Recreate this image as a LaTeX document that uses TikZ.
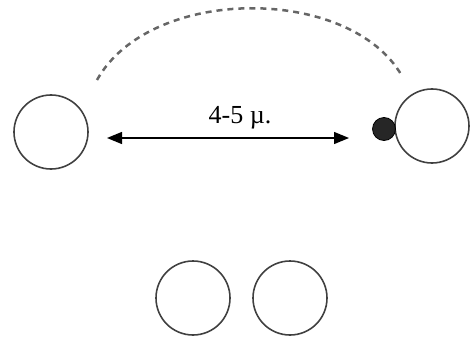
\documentclass[tikz,border=0pt]{standalone}
\usepackage{fontspec}
\setmainfont{Liberation Serif}
\usetikzlibrary{arrows.meta}
\begin{document}
\begin{tikzpicture}[x=1pt,y=-1pt,
  cell/.style={circle,draw=black!75,line width=1.6pt,minimum size=74pt,inner sep=0pt},
  dot/.style={circle,fill=black!85,draw=black,line width=0.8pt,minimum size=23pt,inner sep=0pt},
  arc/.style={draw=black!60,line width=2.5pt,dash pattern=on 6pt off 5pt},
  dim/.style={draw=black,line width=1.3pt,{Triangle[length=15pt,width=12pt]}-{Triangle[length=15pt,width=12pt]}}]
\useasboundingbox (0,0) rectangle (470,342);
\node[cell] (L) at (51,132) {};
\node[cell] (R) at (432,126) {};
\node[dot] (D) at (384,129) {};
\node[cell] (B1) at (193,298) {};
\node[cell] (B2) at (290,298) {};
\coordinate (a1) at (107,138);
\coordinate (a2) at (349,138);
\draw[dim] (a1) -- (a2);
\node[font=\fontsize{26}{29}\selectfont] (lab) at (240,118) {4-5 µ.};
\coordinate (s) at (97,80);
\coordinate (e) at (402,76);
\draw[arc] (s) .. controls (150,-15) and (350,-15) .. (e);
\end{tikzpicture}
\end{document}
